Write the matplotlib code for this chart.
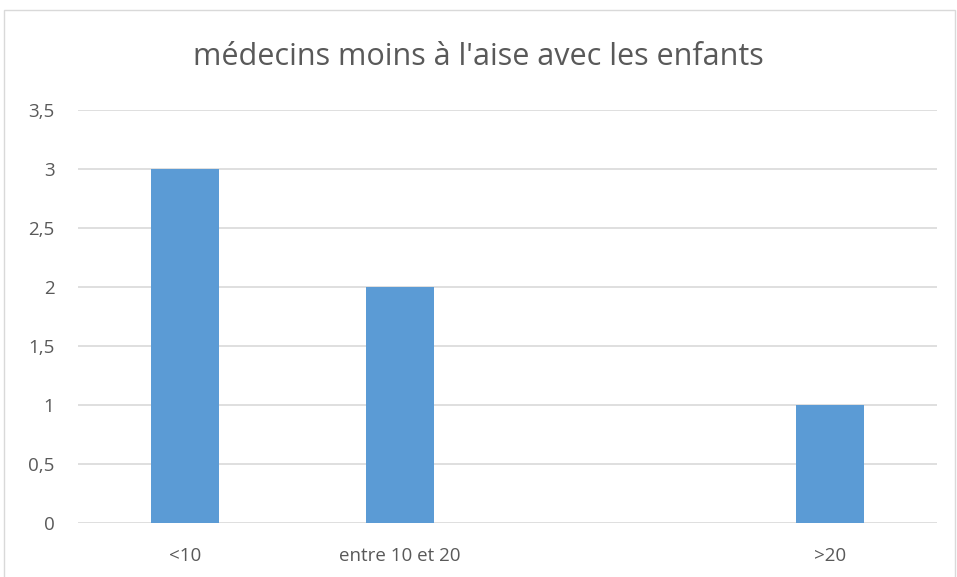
import numpy as np
import matplotlib
matplotlib.use('Agg')
import matplotlib.pyplot as plt
import matplotlib.patches as patches

# data
categories = ['<10', 'entre 10 et 20', '', '>20']
values = [3, 2, 0, 1]
yticks = [0, 0.5, 1, 1.5, 2, 2.5, 3, 3.5]
ytick_labels = ['0', '0,5', '1', '1,5', '2', '2,5', '3', '3,5']
title = "médecins moins à l'aise avec les enfants"

plt.rcParams['font.family'] = ['Open Sans', 'DejaVu Sans']

fig = plt.figure(figsize=(9.57, 5.77), dpi=100)
ax = fig.add_axes([78/957, 1 - 523/577, (937 - 78)/957, (523 - 110)/577])

x = np.arange(len(categories))
ax.bar(x, values, width=0.317, color='#5B9BD5', zorder=3)

ax.set_xlim(-0.5, len(categories) - 0.5)
ax.set_ylim(0, 3.5)
ax.set_yticks(yticks)
ax.set_yticklabels(ytick_labels)
ax.set_xticks(x)
ax.set_xticklabels(categories)
ax.yaxis.grid(True, color='#D9D9D9', linewidth=1.2, zorder=0)
ax.set_axisbelow(True)
for s in ax.spines.values():
    s.set_visible(False)
ax.tick_params(axis='both', length=0, labelsize=13.5, labelcolor='#595959')
ax.tick_params(axis='y', pad=17)
ax.tick_params(axis='x', pad=17)

fig.text(0.5, 1 - 57/577, title, ha='center', va='center', fontsize=22, color='#595959')

# chart area border
border = patches.Rectangle((4/957, -0.01), 951/957, 1 - 10/577 + 0.01, transform=fig.transFigure,
                           fill=False, edgecolor='#D9D9D9', linewidth=1)
fig.patches.append(border)

fig.savefig('out.png', dpi=100)
